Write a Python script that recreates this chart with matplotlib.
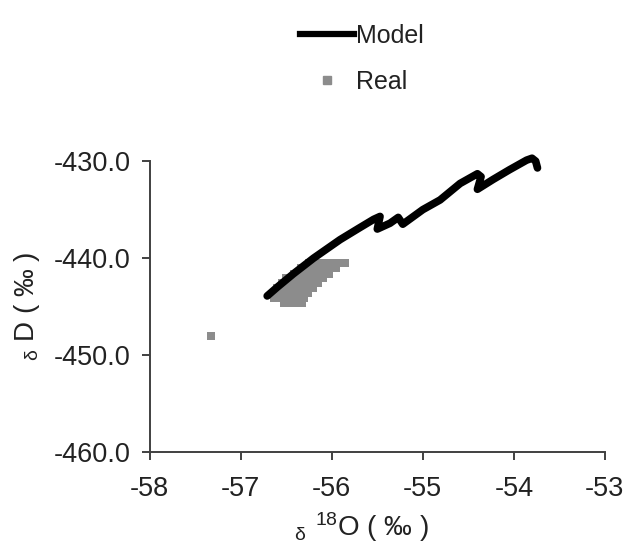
import matplotlib
matplotlib.use("Agg")
import matplotlib.pyplot as plt
from matplotlib.lines import Line2D

plt.rcParams['font.family'] = ['Liberation Sans', 'DejaVu Sans']

# model trajectory (d18O, dD)
model_x = [-56.71, -56.60, -56.42, -56.20, -55.91, -55.70, -55.54, -55.47, -55.50,
           -55.36, -55.27, -55.22, -55.00, -54.81, -54.59, -54.40, -54.36, -54.40,
           -54.23, -54.05, -53.86, -53.80, -53.76, -53.74]
model_y = [-443.9, -443.0, -441.6, -440.0, -438.1, -436.9, -436.0, -435.7, -437.0,
           -436.4, -435.8, -436.5, -435.0, -434.0, -432.3, -431.3, -431.6, -432.9,
           -431.9, -430.9, -429.9, -429.7, -430.0, -430.7]

# measured samples
real_x = [-57.33,
          -56.25, -56.20, -56.13, -56.06, -55.99, -55.92, -55.85,
          -56.34, -56.30, -56.23, -56.16, -56.09, -56.02, -55.95,
          -56.42, -56.38, -56.31, -56.24, -56.17, -56.10, -56.03,
          -56.50, -56.45, -56.38, -56.31, -56.24, -56.17, -56.10,
          -56.55, -56.50, -56.43, -56.36, -56.29, -56.22, -56.15,
          -56.60, -56.56, -56.49, -56.42, -56.35, -56.28, -56.21,
          -56.62, -56.55, -56.48, -56.41, -56.34, -56.26,
          -56.64, -56.57, -56.50, -56.43, -56.36, -56.30,
          -56.52, -56.45, -56.38, -56.33]
real_y = [-448.0,
          -440.5, -440.5, -440.5, -440.5, -440.5, -440.5, -440.5,
          -441.0, -441.0, -441.0, -441.0, -441.0, -441.0, -441.0,
          -441.6, -441.6, -441.6, -441.6, -441.6, -441.6, -441.6,
          -442.1, -442.1, -442.1, -442.1, -442.1, -442.1, -442.1,
          -442.6, -442.6, -442.6, -442.6, -442.6, -442.6, -442.6,
          -443.1, -443.1, -443.1, -443.1, -443.1, -443.1, -443.1,
          -443.6, -443.6, -443.6, -443.6, -443.6, -443.6,
          -444.1, -444.1, -444.1, -444.1, -444.1, -444.1,
          -444.6, -444.6, -444.6, -444.6]

xticks = [-58, -57, -56, -55, -54, -53]
yticks = [-460, -450, -440, -430]

fig = plt.figure(figsize=(6.32, 5.5), dpi=100)
ax = fig.add_axes([0.237, 0.178, 0.72, 0.529])

ax.scatter(real_x, real_y, marker='s', s=30, color='#8c8c8c', linewidths=0, zorder=2)
ax.plot(model_x, model_y, color='black', lw=5.5, solid_capstyle='round',
        solid_joinstyle='round', zorder=3, clip_on=False)

ax.set_xlim(-58, -53)
ax.set_ylim(-460, -430)
ax.set_xticks(xticks)
ax.set_xticklabels([str(t) for t in xticks])
ax.set_yticks(yticks)
ax.set_yticklabels(['%.1f' % t for t in yticks])

for s in ['top', 'right']:
    ax.spines[s].set_visible(False)
for s in ['left', 'bottom']:
    ax.spines[s].set_color('#404040')
    ax.spines[s].set_linewidth(1.4)
ax.tick_params(direction='out', length=6, width=1.4, color='#404040',
               labelsize=19.5, labelcolor='#222222')
ax.tick_params(axis='x', pad=11)
ax.tick_params(axis='y', pad=8)

ax.set_xlabel(r"$\mathregular{_{\delta}\ ^{18}}$O ( ‰ )", fontsize=20, color='#222222')
ax.xaxis.set_label_coords(0.465, -0.2)
ax.set_ylabel(r"$\mathregular{_{\delta}}$ D ( ‰ )", fontsize=20, labelpad=8,
              color='#222222')

handles = [Line2D([], [], color='black', lw=4.5),
           Line2D([], [], marker='s', ls='', color='#8c8c8c', markersize=6)]
fig.legend(handles, ['Model', 'Real'], loc='upper left',
           bbox_to_anchor=(0.475, 0.957), frameon=False, fontsize=18,
           handlelength=2.15, handletextpad=0.1, labelspacing=0.88,
           borderpad=0, borderaxespad=0, labelcolor='#222222')

fig.savefig('out.png', dpi=100)
